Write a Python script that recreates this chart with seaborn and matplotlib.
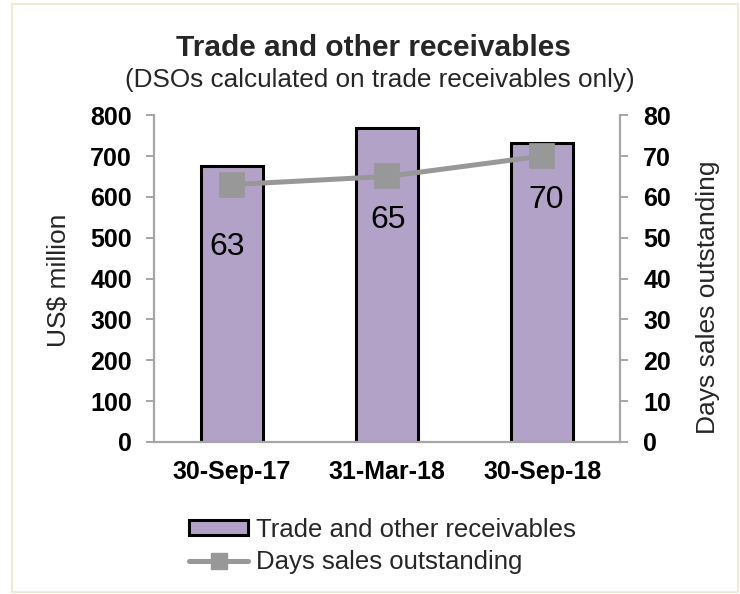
import matplotlib
matplotlib.use("Agg")
import matplotlib.pyplot as plt
from matplotlib.patches import Patch, Rectangle
from matplotlib.lines import Line2D
import pandas as pd
import seaborn as sns

# ---- data -------------------------------------------------------------
periods = ["30-Sep-17", "31-Mar-18", "30-Sep-18"]
receivables = [675, 768, 731]          # US$ million
dso_days = [63, 65, 70]                # days sales outstanding
left_ticks = [0, 100, 200, 300, 400, 500, 600, 700, 800]
right_ticks = [0, 10, 20, 30, 40, 50, 60, 70, 80]

bar_name = "Trade and other receivables"
line_name = "Days sales outstanding"
title = "Trade and other receivables"
subtitle = "(DSOs calculated on trade receivables only)"
left_label = "US$ million"
right_label = "Days sales outstanding"

df = pd.DataFrame({"period": periods, "receivables": receivables, "dso": dso_days})

# ---- styling ----------------------------------------------------------
sns.set_theme(style="white")
plt.rcParams["font.family"] = ["Liberation Sans", "DejaVu Sans"]

BAR = "#b3a2c7"
GREY = "#989898"
AXIS = "#a6a6a6"
TICK_FS = 18
TICK_W = "bold"

fig = plt.figure(figsize=(7.4, 5.94), dpi=100)
fig.patch.set_facecolor("white")
ax = fig.add_axes([0.2081, 0.2559, 0.6297, 0.5502])

# bars: receivables
sns.barplot(data=df, x="period", y="receivables", color=BAR, width=0.4,
            edgecolor="black", linewidth=2.2, saturation=1, ax=ax, zorder=2)

# line: DSO on secondary axis
ax2 = ax.twinx()
sns.pointplot(data=df, x="period", y="dso", color=GREY, markers="s",
              markersize=16, linewidth=3.6, markeredgecolor=GREY,
              errorbar=None, ax=ax2)

for a in (ax, ax2):
    a.set_xlim(-0.5, len(periods) - 0.5)
    a.set_xlabel("")
    a.set_ylabel("")
    a.grid(False)
    a.set_facecolor("none")

ax.set_ylim(left_ticks[0], left_ticks[-1])
ax2.set_ylim(right_ticks[0], right_ticks[-1])
ax.set_yticks(left_ticks)
ax2.set_yticks(right_ticks)

# spines
for s in ("top", "right"):
    ax.spines[s].set_visible(False)
for s in ("top", "left", "bottom"):
    ax2.spines[s].set_visible(False)
for sp in (ax.spines["left"], ax.spines["bottom"], ax2.spines["right"]):
    sp.set_color(AXIS)
    sp.set_linewidth(1.6)

# y ticks
ax.tick_params(axis="y", which="major", direction="out", length=5.8, width=1.4,
               color=AXIS, pad=10, labelsize=TICK_FS, labelcolor="black")
ax2.tick_params(axis="y", which="major", direction="out", length=5.8, width=1.4,
                color=AXIS, pad=11, labelsize=TICK_FS, labelcolor="black")
for lab in ax.get_yticklabels() + ax2.get_yticklabels():
    lab.set_fontweight(TICK_W)

# x ticks: labels at category centres, tick marks at category boundaries
ax.set_xticks(range(len(periods)))
ax.set_xticklabels(periods, fontsize=TICK_FS, fontweight=TICK_W)
ax.set_xticks([i - 0.5 for i in range(len(periods) + 1)], minor=True)
ax.tick_params(axis="x", which="major", length=0, pad=13, labelcolor="black")
ax.tick_params(axis="x", which="minor", direction="out", length=5.8, width=1.4,
               color=AXIS)
ax2.tick_params(axis="x", which="both", length=0, labelbottom=False)

# value labels under each DSO marker
label_offsets = [(-3, -45), (1, -31.5), (3, -32)]
for i, (v, off) in enumerate(zip(dso_days, label_offsets)):
    ax2.annotate(f"{v}", xy=(i, v), xytext=off, textcoords="offset points",
                 ha="center", va="center", fontsize=23, color="black")

# titles and axis labels
fig.text(0.505, 0.9057, title, ha="center", va="baseline", fontsize=21.5,
         fontweight="bold")
fig.text(0.513, 0.853, subtitle, ha="center", va="baseline", fontsize=18.8)
fig.text(0.08, 0.5286, left_label, rotation=90, ha="center", va="center",
         fontsize=19)
fig.text(0.957, 0.5, right_label, rotation=90, ha="center", va="center",
         fontsize=19)

# legend
handles = [
    Patch(facecolor=BAR, edgecolor="black", linewidth=2.2),
    Line2D([], [], color=GREY, lw=3.6, marker="s", markersize=11.5,
           markeredgecolor=GREY),
]
fig.legend(handles=handles, labels=[bar_name, line_name], loc="center left",
           bbox_to_anchor=(189 / 740, 0.081), frameon=False, fontsize=18.5,
           handlelength=2.3, handletextpad=0.3, labelspacing=0.33,
           borderpad=0, borderaxespad=0, handleheight=0.55)

# faint outer frame
fig.patches.append(Rectangle((12 / 740, 0.004), 1 - 12 / 740 - 0.003, 0.99,
                             transform=fig.transFigure, fill=False,
                             edgecolor="#efe9d6", lw=1.5))

fig.savefig("out.png", dpi=100, facecolor="white")
